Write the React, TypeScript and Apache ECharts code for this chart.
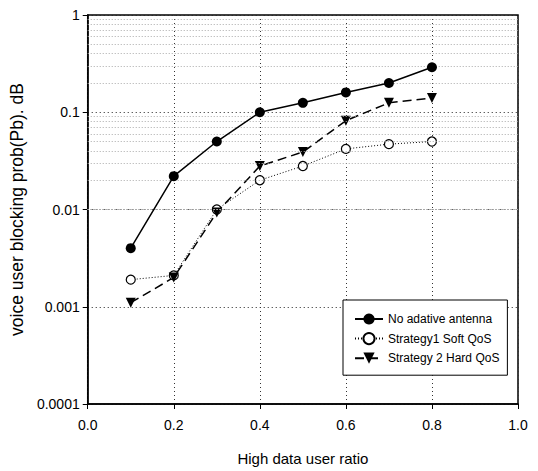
import React, { useEffect, useRef } from "react";
import * as echarts from "echarts";

const xValues = [0.1, 0.2, 0.3, 0.4, 0.5, 0.6, 0.7, 0.8];
const noAdaptive = [0.004, 0.022, 0.05, 0.1, 0.125, 0.16, 0.2, 0.29];
const softQoS = [0.0019, 0.0021, 0.01, 0.02, 0.028, 0.042, 0.047, 0.05];
const hardQoS = [0.0011, 0.002, 0.0093, 0.028, 0.039, 0.082, 0.125, 0.14];
const seriesNames = ["No adative antenna", "Strategy1 Soft QoS", "Strategy 2 Hard QoS"];
const yTickLabels: Record<string, string> = {
  "0.0001": "0.0001",
  "0.001": "0.001",
  "0.01": "0.01",
  "0.1": "0.1",
  "1": "1",
};
const minorGridValues = [
  0.0002, 0.0003, 0.0004, 0.0005, 0.0006, 0.0007, 0.0008, 0.0009,
  0.002, 0.003, 0.004, 0.005, 0.006, 0.007, 0.008, 0.009,
  0.02, 0.03, 0.04, 0.05, 0.06, 0.07, 0.08, 0.09,
  0.2, 0.3, 0.4, 0.5, 0.6, 0.7, 0.8, 0.9,
];

const FONT = "'Liberation Sans', Arial, sans-serif";

function pairs(ys: number[]) {
  return xValues.map((x, i) => [x, ys[i]]);
}

export default function App() {
  const ref = useRef<HTMLDivElement>(null);
  useEffect(() => {
    if (!ref.current) return;
    const chart = echarts.init(ref.current, undefined, { renderer: "svg" });
    chart.setOption({
      animation: false,
      backgroundColor: "#fff",
      grid: {
        left: 82,
        right: 20,
        top: 15,
        bottom: 66,
        show: true,
        borderColor: "#000",
        borderWidth: 1.5,
      },
      legend: {
        orient: "vertical",
        left: 343,
        top: 300,
        padding: [13, 8, 11, 11],
        itemGap: 7,
        itemWidth: 28,
        itemHeight: 14,
        borderColor: "#000",
        borderWidth: 1,
        backgroundColor: "#fff",
        data: seriesNames,
        textStyle: { fontFamily: FONT, fontSize: 12, color: "#000" },
      },
      xAxis: {
        type: "value",
        min: 0,
        max: 1,
        interval: 0.2,
        name: "High data user ratio",
        nameLocation: "middle",
        nameGap: 47,
        nameTextStyle: { fontFamily: FONT, fontSize: 15, color: "#000" },
        axisLine: { lineStyle: { color: "#000", width: 1.5 } },
        axisTick: { show: true, inside: false, length: 5, lineStyle: { color: "#000" } },
        axisLabel: {
          fontFamily: FONT,
          fontSize: 14,
          color: "#000",
          margin: 14,
          formatter: (v: number) => v.toFixed(1),
        },
        splitLine: { show: true, lineStyle: { color: "#333", type: [1, 3], width: 1 } },
      },
      yAxis: {
        type: "log",
        logBase: 10,
        min: 0.0001,
        max: 1,
        name: "voice user blocking prob(Pb). dB",
        nameLocation: "middle",
        nameGap: 52,
        nameTextStyle: { fontFamily: FONT, fontSize: 17.5, color: "#000" },
        axisLine: { show: true, lineStyle: { color: "#000", width: 1.5 } },
        axisTick: { show: true, length: 5, lineStyle: { color: "#000" } },
        axisLabel: {
          fontFamily: FONT,
          fontSize: 14,
          color: "#000",
          margin: 8,
          formatter: (v: number) => {
            const k = String(parseFloat(v.toPrecision(3)));
            return yTickLabels[k] ?? k;
          },
        },
        splitLine: { show: true, lineStyle: { color: "#222", type: [1, 3], width: 1 } },
      },
      series: [
        {
          name: "minor-grid",
          type: "line",
          data: [],
          silent: true,
          markLine: {
            silent: true,
            symbol: "none",
            label: { show: false },
            lineStyle: { color: "#aaa", type: [1, 2], width: 1 },
            data: minorGridValues.map((v) => ({ yAxis: v })),
          },
        },
        {
          name: seriesNames[0],
          type: "line",
          data: pairs(noAdaptive),
          symbol: "circle",
          symbolSize: 10,
          itemStyle: { color: "#000" },
          lineStyle: { color: "#000", width: 1.5, type: "solid" },
          z: 5,
        },
        {
          name: seriesNames[1],
          type: "line",
          data: pairs(softQoS),
          symbol: "circle",
          symbolSize: 9,
          showSymbol: true,
          itemStyle: { color: "#fff", borderColor: "#000", borderWidth: 1.2 },
          lineStyle: { color: "#000", width: 1, type: [1, 2] },
          z: 4,
        },
        {
          name: seriesNames[2],
          type: "line",
          data: pairs(hardQoS),
          symbol: "triangle",
          symbolRotate: 180,
          symbolSize: 10,
          itemStyle: { color: "#000" },
          lineStyle: { color: "#000", width: 1.5, type: [9, 5] },
          z: 4,
        },
      ],
    });
    return () => chart.dispose();
  }, []);
  return (
    <div
      ref={ref}
      style={{ position: "absolute", left: 0, top: 0, width: 538, height: 471 }}
    />
  );
}
